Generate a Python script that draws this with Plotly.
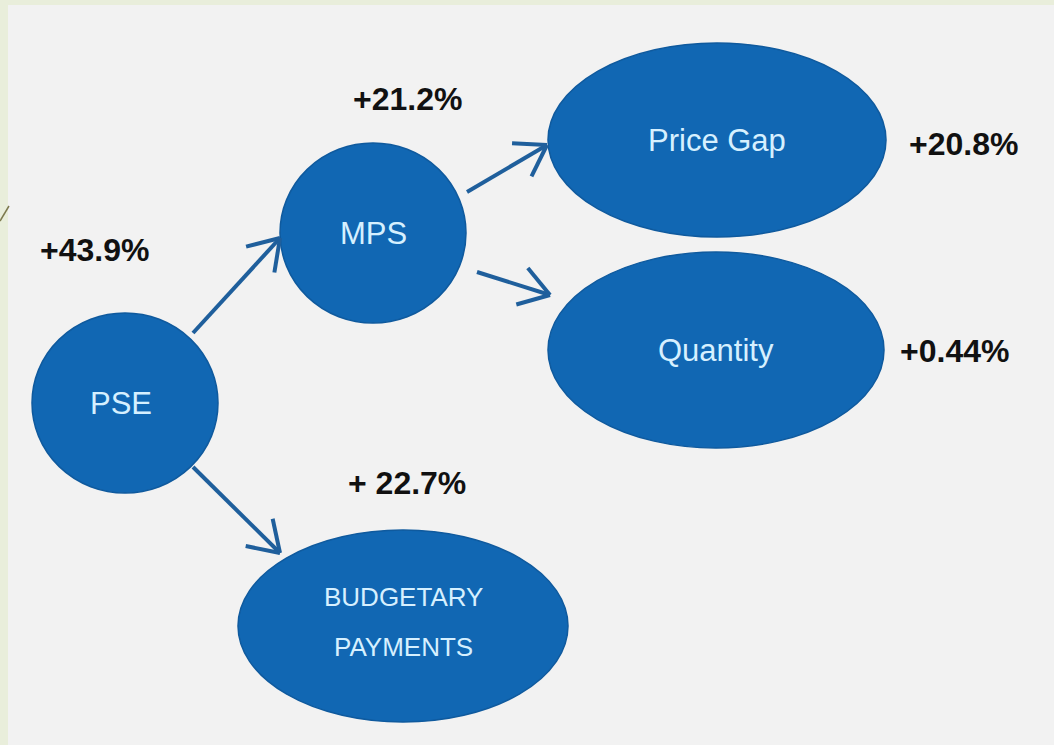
import math
import plotly.graph_objects as go

# Diagram data: nodes, the change in each, and the links between them
nodes = ["PSE", "MPS", "Price Gap", "Quantity", "BUDGETARY PAYMENTS"]
changes = ["+43.9%", "+21.2%", "+20.8%", "+0.44%", "+ 22.7%"]
edges = [("PSE", "MPS"), ("MPS", "Price Gap"), ("MPS", "Quantity"), ("PSE", "BUDGETARY PAYMENTS")]

# Layout (pixel space, y grows downward): centre x, centre y, radius x, radius y
node_pos = {
    "PSE": (125, 403, 93, 90),
    "MPS": (373, 233, 93, 90),
    "Price Gap": (717, 140, 169, 97),
    "Quantity": (716, 350, 168, 98),
    "BUDGETARY PAYMENTS": (403, 626, 165, 96),
}
label_pos = {
    "PSE": (94, 250),
    "MPS": (407, 99),
    "Price Gap": (963, 144),
    "Quantity": (954, 351),
    "BUDGETARY PAYMENTS": (407, 483),
}
# arrow start -> tip
edge_pos = {
    ("PSE", "MPS"): ((193, 333), (280, 238)),
    ("MPS", "Price Gap"): ((467, 192), (547, 145)),
    ("MPS", "Quantity"): ((477, 272), (550, 295)),
    ("PSE", "BUDGETARY PAYMENTS"): ((193, 467), (280, 553)),
}

W, H = 1054, 745
BLUE = "#1167b3"
ARROW = "#1f5f9c"
INNER = "#d6f0ff"
FONT = "Liberation Sans, Arial, sans-serif"

fig = go.Figure()

# Arrows: shaft plus an open chevron head
for e in edges:
    (x0, y0), (x1, y1) = edge_pos[e]
    ang = math.atan2(y0 - y1, x0 - x1)
    head = 35
    xs = [x0, x1, None]
    ys = [y0, y1, None]
    for d in (-0.58, 0.58):
        xs += [x1 + head * math.cos(ang + d), x1, None]
        ys += [y1 + head * math.sin(ang + d), y1, None]
    fig.add_trace(go.Scatter(
        x=xs, y=ys, mode="lines",
        line=dict(color=ARROW, width=4),
        hoverinfo="skip", showlegend=False
    ))

shapes = [
    # pale green strip on the left / top
    dict(type="rect", xref="paper", yref="paper", x0=0, x1=1, y0=0, y1=1,
         fillcolor="#e9eedb", line_width=0, layer="below"),
    dict(type="rect", xref="x", yref="y", x0=8, x1=W, y0=5, y1=H,
         fillcolor="#f2f2f2", line_width=0, layer="below"),
    dict(type="line", xref="x", yref="y", x0=0, y0=221, x1=9, y1=206,
         line=dict(color="#7d7a4e", width=1.5)),
]

for n in nodes:
    cx, cy, rx, ry = node_pos[n]
    shapes.append(dict(
        type="circle", xref="x", yref="y",
        x0=cx - rx, x1=cx + rx, y0=cy - ry, y1=cy + ry,
        fillcolor=BLUE, line=dict(color="#0f5a9e", width=1.5), layer="below"
    ))

annotations = []
for n, lab in zip(nodes, changes):
    cx, cy, rx, ry = node_pos[n]
    if n == "BUDGETARY PAYMENTS":
        for i, word in enumerate(n.split(" ")):
            annotations.append(dict(
                x=cx, y=cy - 29 + i * 50, xref="x", yref="y", text=word,
                showarrow=False, xanchor="center", yanchor="middle",
                font=dict(family=FONT, size=26, color=INNER)
            ))
    else:
        annotations.append(dict(
            x=cx - (4 if n == "PSE" else 0), y=cy, xref="x", yref="y", text=n,
            showarrow=False, xanchor="center", yanchor="middle",
            font=dict(family=FONT, size=31, color=INNER)
        ))
    lx, ly = label_pos[n]
    annotations.append(dict(
        x=lx, y=ly, xref="x", yref="y", text=lab,
        showarrow=False, xanchor="center", yanchor="middle",
        font=dict(family=FONT, size=32, color="#111111", weight="bold")
    ))

fig.update_layout(
    width=W, height=H,
    margin=dict(l=0, r=0, t=0, b=0),
    paper_bgcolor="#f2f2f2",
    plot_bgcolor="rgba(0,0,0,0)",
    xaxis=dict(range=[0, W], visible=False, fixedrange=True),
    yaxis=dict(range=[H, 0], visible=False, fixedrange=True),
    shapes=shapes,
    annotations=annotations,
    showlegend=False
)

fig.write_html("out.html", config={"displayModeBar": False},
               post_script="document.body.style.margin='0';")
